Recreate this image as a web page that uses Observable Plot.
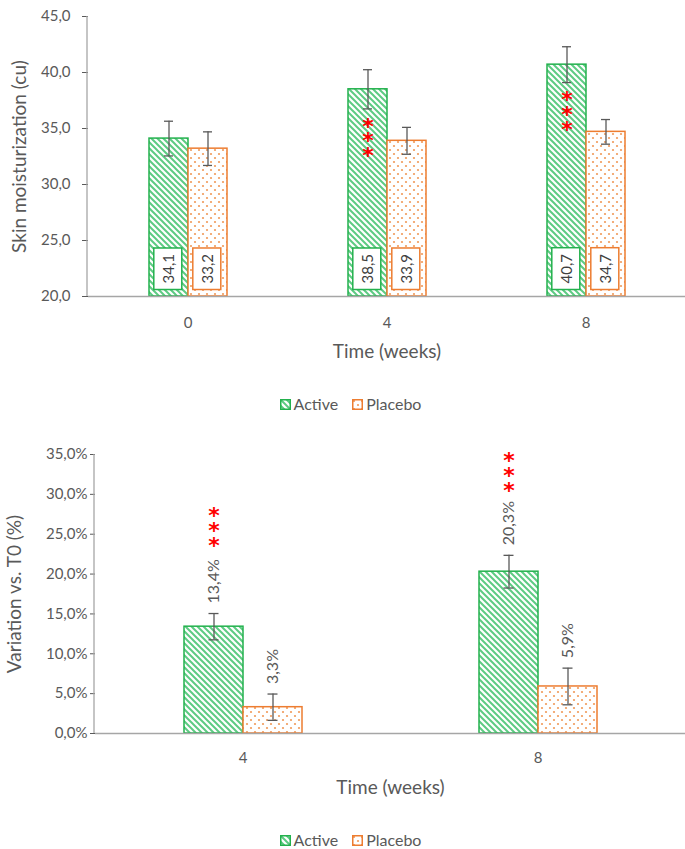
<!DOCTYPE html>
<html><head><meta charset="utf-8">
<script src="https://cdn.jsdelivr.net/npm/d3@7"></script>
<script src="https://cdn.jsdelivr.net/npm/@observablehq/plot@0.6"></script>
<style>
body{margin:0;background:#fff;font-family:Lato,"Open Sans",sans-serif;color:#595959;overflow:hidden;width:685px}
svg{display:block}
.legend{display:flex;justify-content:center;align-items:flex-start;font-size:16px;line-height:20px;padding-left:16px}
.legend .it{display:flex;align-items:center;margin:0 7px;height:20px}
.legend svg{margin-right:3px}
#l1{height:60px;box-sizing:border-box;padding-top:24px}
#l2{padding-top:27px}
g[aria-label="y-axis tick label"], g[aria-label="fx-axis tick label"]{font-size:15px}
g[aria-label="y-axis label"], g[aria-label="fx-axis label"]{font-size:19px}
g[aria-label="y-axis tick"]{stroke:#a6a6a6}
</style></head><body>
<svg width="0" height="0" style="position:absolute"><defs>
<pattern id="pA" patternUnits="userSpaceOnUse" width="6" height="6"><rect width="6" height="6" fill="#fff"/><path d="M-1,-1L7,7M-1,5L1,7M5,-1L7,1" stroke="#5DCB83" stroke-width="2"/></pattern>
<pattern id="pP" patternUnits="userSpaceOnUse" width="8" height="8"><rect width="8" height="8" fill="#fff"/><circle cx="2" cy="2" r="1.1" fill="#F19A5A"/><circle cx="6" cy="6" r="1.1" fill="#F19A5A"/></pattern>
</defs></svg>
<div id="c1"></div><div class="legend" id="l1"></div><div id="c2"></div><div class="legend" id="l2"></div>
<script>
// ---- data ----
const seriesNames = ["Active", "Placebo"];
// chart 1: skin moisturization (cu)
const weeksA = [0, 4, 8];
const activeMoist = [34.1, 38.5, 40.7];
const placeboMoist = [33.2, 33.9, 34.7];
const activeMoistErr = [1.55, 1.75, 1.6];
const placeboMoistErr = [1.5, 1.2, 1.1];
const activeMoistSig = ["", "***", "***"];
const yDomainA = [20, 45];
const yTicksA = [20, 25, 30, 35, 40, 45];
// chart 2: variation vs T0 (%)
const weeksB = [4, 8];
const activeVar = [13.4, 20.3];
const placeboVar = [3.3, 5.9];
const activeVarErr = [1.65, 2.05];
const placeboVarErr = [1.65, 2.3];
const activeVarSig = ["***", "***"];
const yDomainB = [0, 35];
const yTicksB = [0, 5, 10, 15, 20, 25, 30, 35];

// ---- styles ----
const fillOf = {Active: "url(#pA)", Placebo: "url(#pP)"};
const strokeOf = {Active: "#23B14D", Placebo: "#ED7D31"};
const AX = "#a6a6a6", TXT = "#595959", ERR = "#595959";
const fmt1 = d => d.toFixed(1).replace(".", ",");
const fmtPct = d => d.toFixed(1).replace(".", ",") + "%";

function rows(weeks, a, p, ae, pe, as) {
  return weeks.flatMap((t, i) => [
    {time: t, series: "Active", value: a[i], err: ae[i], sig: as[i]},
    {time: t, series: "Placebo", value: p[i], err: pe[i], sig: ""}
  ]);
}
const rowsA = rows(weeksA, activeMoist, placeboMoist, activeMoistErr, placeboMoistErr, activeMoistSig);
const rowsB = rows(weeksB, activeVar, placeboVar, activeVarErr, placeboVarErr, activeVarSig);
const lo = d => d.value - d.err, hi = d => d.value + d.err;

function barMarks(data, base, capInset) {
  return [
    ...seriesNames.map(s => Plot.barY(data.filter(d => d.series === s), {
      fx: "time", x: "series", y1: base, y2: "value",
      fill: fillOf[s], stroke: strokeOf[s], strokeWidth: 1.5
    })),
    Plot.ruleY([base], {stroke: AX, strokeWidth: 1.3}),
    Plot.ruleX(data, {fx: "time", x: "series", y1: lo, y2: hi, stroke: ERR, strokeWidth: 1.3}),
    Plot.tickY(data, {fx: "time", x: "series", y: lo, insetLeft: capInset, insetRight: capInset, stroke: ERR, strokeWidth: 1.3}),
    Plot.tickY(data, {fx: "time", x: "series", y: hi, insetLeft: capInset, insetRight: capInset, stroke: ERR, strokeWidth: 1.3})
  ];
}

function addAxisLine(svg, plot, left) {
  const r = plot.scale("y").range;
  const l = document.createElementNS("http://www.w3.org/2000/svg", "line");
  l.setAttribute("x1", left); l.setAttribute("x2", left);
  l.setAttribute("y1", r[0]); l.setAttribute("y2", r[1]);
  l.setAttribute("stroke", AX); l.setAttribute("stroke-width", 1.3);
  svg.appendChild(l);
}

// ---- chart 1 ----
const p1 = Plot.plot({
  width: 685, height: 370, marginTop: 16, marginLeft: 87, marginRight: 0, marginBottom: 74,
  style: {fontFamily: "Lato, sans-serif", fontSize: "15px", color: TXT, background: "white"},
  fx: {domain: weeksA, padding: 0, axis: "bottom", tickSize: 0, tickPadding: 21, label: "Time (weeks)", labelAnchor: "center", labelOffset: 61},
  x: {domain: seriesNames, axis: null, paddingInner: 0, paddingOuter: 1.5},
  y: {domain: yDomainA, ticks: yTicksA, tickFormat: fmt1, tickSize: 6, tickPadding: 12,
      label: "Skin moisturization (cu)", labelAnchor: "center", labelOffset: 76, labelArrow: "none"},
  marks: [
    ...barMarks(rowsA, yDomainA[0], 15),
    ...seriesNames.map(s => Plot.text(rowsA.filter(d => d.series === s), {
      fx: "time", x: "series", y: yDomainA[0], text: d => fmt1(d.value),
      rotate: -90, textAnchor: "start", lineAnchor: "middle", dy: -13,
      fontSize: 15, fill: "#404040", className: "vl-" + s
    })),
    Plot.text(rowsA.filter(d => d.sig), {
      fx: "time", x: "series", y: lo, text: d => d.sig.split("").join("\n"),
      lineAnchor: "top", lineHeight: 0.68, fontSize: 22, fontFamily: "DejaVu Sans", fontWeight: "bold",
      fill: "#FF0000", dy: 14
    })
  ]
});
document.getElementById("c1").appendChild(p1);
addAxisLine(p1, p1, 87);
// white boxes around the value labels
for (const s of seriesNames) {
  p1.querySelectorAll(`g.vl-${s} text`).forEach(t => {
    const bb = t.getBBox();
    const padAlong = 6, across = 28;
    const r = document.createElementNS("http://www.w3.org/2000/svg", "rect");
    r.setAttribute("x", bb.x - padAlong);
    r.setAttribute("width", bb.width + 2 * padAlong);
    r.setAttribute("y", bb.y + bb.height / 2 - across / 2);
    r.setAttribute("height", across);
    if (t.getAttribute("transform")) r.setAttribute("transform", t.getAttribute("transform"));
    r.setAttribute("fill", "#fff");
    r.setAttribute("stroke", strokeOf[s]);
    r.setAttribute("stroke-width", 1.5);
    t.parentNode.insertBefore(r, t);
  });
}

// ---- chart 2 ----
const p2 = Plot.plot({
  width: 685, height: 373, marginTop: 24, marginLeft: 94, marginRight: 0, marginBottom: 70,
  style: {fontFamily: "Lato, sans-serif", fontSize: "15px", color: TXT, background: "white"},
  fx: {domain: weeksB, padding: 0, axis: "bottom", tickSize: 0, tickPadding: 19, label: "Time (weeks)", labelAnchor: "center", labelOffset: 60},
  x: {domain: seriesNames, axis: null, paddingInner: 0, paddingOuter: 1.5},
  y: {domain: yDomainB, ticks: yTicksB, tickFormat: fmtPct, tickSize: 5, tickPadding: 3,
      label: "Variation vs. T0 (%)", labelAnchor: "center", labelOffset: 88, labelArrow: "none"},
  marks: [
    ...barMarks(rowsB, yDomainB[0], 24.5),
    Plot.text(rowsB, {
      fx: "time", x: "series", y: hi, text: d => fmtPct(d.value),
      rotate: -90, textAnchor: "start", lineAnchor: "middle", dy: -10,
      fontSize: 16, fill: TXT
    }),
    Plot.text(rowsB.filter(d => d.sig), {
      fx: "time", x: "series", y: "value", text: d => d.sig.split("").join("\n"),
      lineAnchor: "bottom", lineHeight: 0.68, fontSize: 22, fontFamily: "DejaVu Sans", fontWeight: "bold",
      fill: "#FF0000", dy: -74
    })
  ]
});
document.getElementById("c2").appendChild(p2);
addAxisLine(p2, p2, 94);

// ---- legends ----
function legend(el) {
  el.innerHTML = seriesNames.map(s =>
    `<span class="it"><svg width="11" height="11"><rect x="0.75" y="0.75" width="9.5" height="9.5" fill="${fillOf[s]}" stroke="${strokeOf[s]}" stroke-width="1.5"/></svg>${s}</span>`
  ).join("");
}
legend(document.getElementById("l1"));
legend(document.getElementById("l2"));
</script>
</body></html>
